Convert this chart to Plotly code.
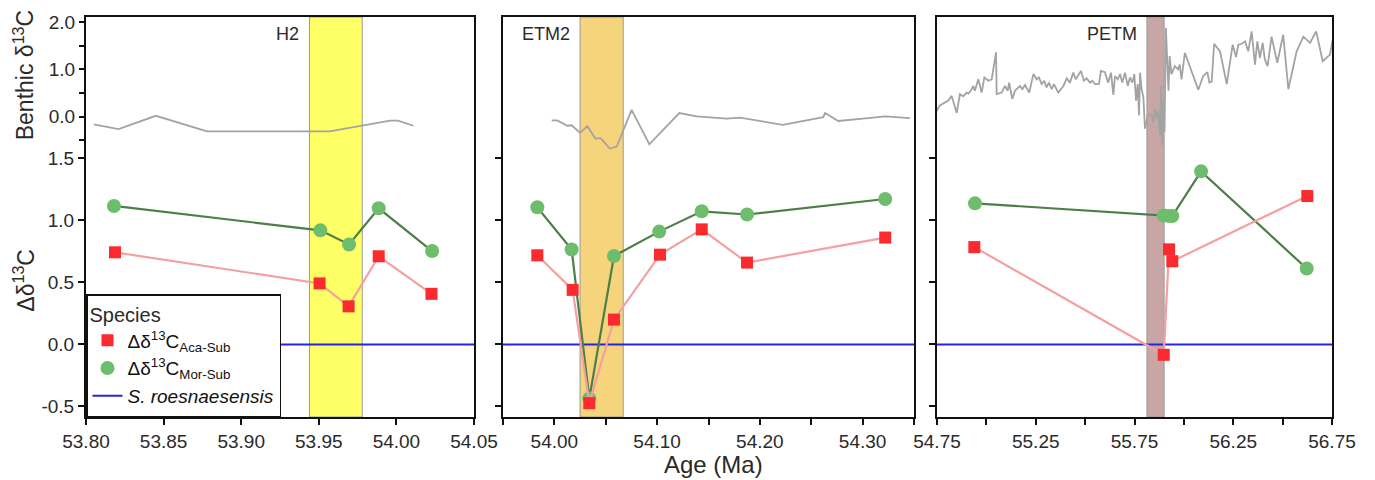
import plotly.graph_objects as go

# ---------------- data ----------------
# Panel 1 (H2)
p1_mor_x = [53.818, 53.951, 53.9695, 53.9886, 54.023]
p1_mor_y = [1.117, 0.920, 0.806, 1.098, 0.753]
p1_aca_x = [53.8187, 53.9505, 53.9692, 53.9886, 54.0226]
p1_aca_y = [0.743, 0.492, 0.307, 0.711, 0.408]
p1_ben_x = [53.805, 53.821, 53.845, 53.878, 53.957, 53.996, 54.001, 54.011]
p1_ben_y = [-0.16, -0.26, 0.02, -0.31, -0.31, -0.08, -0.08, -0.19]

# Panel 2 (ETM2)
p2_mor_x = [53.9834, 54.0168, 54.034, 54.058, 54.102, 54.1434, 54.1875, 54.322]
p2_mor_y = [1.106, 0.766, -0.437, 0.713, 0.910, 1.074, 1.048, 1.173]
p2_aca_x = [53.9834, 54.0178, 54.034, 54.058, 54.1028, 54.1434, 54.1875, 54.322]
p2_aca_y = [0.719, 0.44, -0.474, 0.20, 0.724, 0.928, 0.66, 0.862]
p2_ben_x = [53.9974, 54.0028, 54.0126, 54.0168, 54.025, 54.032, 54.040, 54.045,
            54.054, 54.0607, 54.0752, 54.0924, 54.1216, 54.1385, 54.1677, 54.1806,
            54.2222, 54.2617, 54.2634, 54.2763, 54.3104, 54.3218, 54.346]
p2_ben_y = [-0.077, -0.077, -0.19, -0.18, -0.34, -0.20, -0.46, -0.45,
            -0.67, -0.63, 0.146, -0.58, 0.077, 0.006, -0.04, -0.02,
            -0.17, -0.007, 0.077, -0.09, -0.02, 0.006, -0.027]

# Panel 3 (PETM)
p3_mor_x = [54.9424, 55.898, 55.925, 55.941, 56.087, 56.622]
p3_mor_y = [1.138, 1.04, 1.035, 1.035, 1.396, 0.612]
p3_aca_x = [54.939, 55.898, 55.925, 55.9414, 56.625]
p3_aca_y = [0.785, -0.084, 0.767, 0.671, 1.197]
p3_ben_x = [54.745, 54.765, 54.807, 54.824, 54.85, 54.866, 54.883, 54.90, 54.909, 54.926,
            54.934, 54.942, 54.959, 54.976, 54.99, 55.01, 55.027, 55.049, 55.052, 55.078,
            55.094, 55.108, 55.115, 55.131, 55.145, 55.17, 55.182, 55.196, 55.217, 55.238,
            55.255, 55.266, 55.28, 55.293, 55.305, 55.317, 55.331, 55.342, 55.364, 55.39,
            55.407, 55.423, 55.44, 55.452, 55.465, 55.479, 55.494, 55.508, 55.525, 55.536,
            55.55, 55.57, 55.58, 55.60, 55.617, 55.631, 55.643, 55.651, 55.665, 55.677,
            55.688, 55.702, 55.716, 55.727, 55.739, 55.749, 55.758, 55.766, 55.773, 55.778,
            55.786, 55.795, 55.803, 55.82, 55.837, 55.845, 55.853, 55.862, 55.87, 55.879,
            55.884, 55.89, 55.895, 55.902, 55.909, 55.915, 55.922, 55.928, 55.937, 55.954,
            55.971, 55.979, 55.988, 56.005, 56.04, 56.073, 56.098, 56.119, 56.129, 56.141,
            56.153, 56.183, 56.217, 56.247, 56.264, 56.276, 56.293, 56.31, 56.326, 56.343,
            56.36, 56.372, 56.385, 56.399, 56.41, 56.424, 56.444, 56.473, 56.503, 56.529,
            56.571, 56.605, 56.639, 56.67, 56.703, 56.74, 56.753]
p3_ben_y = [0.10, 0.24, 0.34, 0.44, 0.08, 0.48, 0.43, 0.51, 0.49, 0.58,
            0.65, 0.55, 0.79, 0.51, 0.83, 0.76, 0.79, 1.36, 0.48, 0.51,
            0.65, 0.55, 0.72, 0.375, 0.55, 0.65, 0.58, 0.67, 0.51, 0.90,
            0.79, 0.83, 0.69, 0.76, 0.62, 0.72, 0.58, 0.69, 0.51, 0.65,
            0.81, 0.72, 0.93, 0.79, 0.875, 0.965, 0.76, 0.81, 0.72, 0.76,
            0.69, 0.69, 0.965, 0.94, 0.72, 0.93, 0.46, 0.86, 0.79, 0.90,
            0.72, 0.93, 0.65, 0.83, 0.72, 0.90, 0.34, 0.69, 0.03, 0.93,
            0.58, 0.41, -0.25, 0.06, 0.03, -0.11, 0.17, -0.04, 0.13, -0.39,
            0.65, -0.60, 0.31, -0.32, 1.87, 1.35, 0.55, 1.28, 0.90, 1.07,
            1.00, 1.10, 0.79, 1.35, 0.93, 0.57, 0.86, 0.94, 0.72, 0.74,
            1.54, 1.38, 0.69, 1.52, 1.26, 1.52, 1.54, 1.59, 1.38, 1.80,
            1.10, 1.59, 1.24, 1.56, 1.21, 1.07, 1.69, 1.14, 1.73, 0.58,
            1.38, 1.69, 1.56, 1.80, 1.17, 1.31, 1.625]

# Reference species (Δδ13C relative to S. roesnaesensis)
ref_value = 0.0

# Events
event_names = ["H2", "ETM2", "PETM"]
event_start = [53.944, 54.025, 55.813]
event_end = [53.978, 54.067, 55.900]
event_colors = ["#FFFF66", "#F5D47C", "#C9A6A6"]

# Axes
x_ranges = [[53.80, 54.05], [53.95, 54.35], [54.75, 56.75]]
p1_tickvals = [53.80, 53.85, 53.90, 53.95, 54.00, 54.05]
p1_ticktext = ["53.80", "53.85", "53.90", "53.95", "54.00", "54.05"]
p1_minor = []
p2_tickvals = [54.00, 54.10, 54.20, 54.30]
p2_ticktext = ["54.00", "54.10", "54.20", "54.30"]
p2_minor = [53.95, 54.05, 54.15, 54.25, 54.35]
p3_tickvals = [54.75, 55.25, 55.75, 56.25, 56.75]
p3_ticktext = ["54.75", "55.25", "55.75", "56.25", "56.75"]
p3_minor = [55.00, 55.50, 56.00, 56.50]
delta_tickvals = [1.5, 1.0, 0.5, 0.0, -0.5]
delta_ticktext = ["1.5", "1.0", "0.5", "0.0", "-0.5"]
benthic_tickvals = [2.0, 1.0, 0.0]
benthic_ticktext = ["2.0", "1.0", "0.0"]
benthic_minor = [1.5, 0.5, -0.5]

# ---------------- figure ----------------
RED = "#FA2A2E"
RED_LINE = "#F4A0A0"
GREEN = "#6DBD6D"
GREEN_LINE = "#4C7F47"
GRAY = "#A3A3A3"
BLUE = "#2525E0"
FONT = "Liberation Sans"
TXT = "#2a2a2a"

W, H = 1375, 480
ML, MT = 86, 12
PW, PH = 1246, 405
MR = W - ML - PW
MB = H - MT - PH
domains = [[0.0, 388 / PW], [417 / PW, 828 / PW], [851 / PW, 1.0]]


def px_x(px):
    return (px - ML) / PW


def px_y(py):
    return (MT + PH - py) / PH


fig = go.Figure()

panels = [
    (p1_mor_x, p1_mor_y, p1_aca_x, p1_aca_y, p1_ben_x, p1_ben_y),
    (p2_mor_x, p2_mor_y, p2_aca_x, p2_aca_y, p2_ben_x, p2_ben_y),
    (p3_mor_x, p3_mor_y, p3_aca_x, p3_aca_y, p3_ben_x, p3_ben_y),
]

for i, (mx, my, ax, ay, bx, by) in enumerate(panels):
    xa = "x" if i == 0 else f"x{i + 1}"
    yd = "y" if i == 0 else f"y{2 * i + 1}"
    yb = f"y{2 * i + 2}"
    fig.add_trace(go.Scatter(x=bx, y=by, xaxis=xa, yaxis=yb, mode="lines",
                             line=dict(color=GRAY, width=1.8), showlegend=False,
                             hoverinfo="skip"))
    fig.add_trace(go.Scatter(x=mx, y=my, xaxis=xa, yaxis=yd, mode="lines+markers",
                             line=dict(color=GREEN_LINE, width=2.2),
                             marker=dict(symbol="circle", size=14, color=GREEN),
                             showlegend=False))
    fig.add_trace(go.Scatter(x=ax, y=ay, xaxis=xa, yaxis=yd, mode="lines+markers",
                             line=dict(color=RED_LINE, width=2.2),
                             marker=dict(symbol="square", size=12, color=RED),
                             showlegend=False))

# legend-only entries
fig.add_trace(go.Scatter(x=[None], y=[None], mode="markers",
                         marker=dict(symbol="square", size=12, color=RED),
                         name="Δδ<sup>13</sup>C<sub>Aca-Sub</sub>"))
fig.add_trace(go.Scatter(x=[None], y=[None], mode="markers",
                         marker=dict(symbol="circle", size=14, color=GREEN),
                         name="Δδ<sup>13</sup>C<sub>Mor-Sub</sub>"))
fig.add_trace(go.Scatter(x=[None], y=[None], mode="lines",
                         line=dict(color=BLUE, width=2),
                         name="<i>S. roesnaesensis</i>"))

shapes = []
annotations = []
for i in range(3):
    xa = "x" if i == 0 else f"x{i + 1}"
    yd = "y" if i == 0 else f"y{2 * i + 1}"
    shapes.append(dict(type="rect", xref=xa, yref=f"{yd} domain",
                       x0=event_start[i], x1=event_end[i], y0=0, y1=1,
                       fillcolor=event_colors[i], line=dict(color="#9a9a9a", width=1),
                       layer="below"))
    shapes.append(dict(type="line", xref=f"{xa} domain", yref=yd,
                       x0=0, x1=1, y0=ref_value, y1=ref_value,
                       line=dict(color=BLUE, width=2), layer="below"))
    annotations.append(dict(text=event_names[i], xref=xa, yref=f"{yd} domain",
                            x=event_start[i], y=px_y(29), xanchor="right", yanchor="middle",
                            xshift=-8, showarrow=False,
                            font=dict(family=FONT, size=18, color=TXT)))

annotations += [
    dict(text="Benthic δ<sup>13</sup>C", xref="paper", yref="paper",
         x=px_x(24), y=px_y(71), textangle=-90,
         xanchor="center", yanchor="middle", showarrow=False,
         font=dict(family=FONT, size=23, color=TXT)),
    dict(text="Δδ<sup>13</sup>C", xref="paper", yref="paper",
         x=px_x(24), y=px_y(279), textangle=-90,
         xanchor="center", yanchor="middle", showarrow=False,
         font=dict(family=FONT, size=23, color=TXT)),
    dict(text="Age (Ma)", xref="paper", yref="paper",
         x=px_x(713), y=px_y(465),
         xanchor="center", yanchor="middle", showarrow=False,
         font=dict(family=FONT, size=24, color=TXT)),
]

axis_common = dict(showline=True, linecolor="#111", linewidth=2, mirror=True,
                   ticks="outside", ticklen=6, tickwidth=1.5, tickcolor="#111",
                   showgrid=False, zeroline=False,
                   tickfont=dict(family=FONT, size=19, color=TXT))

delta_range = [(343.5 - 417) / 125.5, (343.5 - 12) / 125.5]
benthic_range = [(113 - 417) / 48.0, (113 - 12) / 48.0]

layout = dict(
    width=W, height=H,
    margin=dict(l=ML, r=MR, t=MT, b=MB),
    paper_bgcolor="white", plot_bgcolor="white",
    shapes=shapes, annotations=annotations,
    showlegend=True,
    legend=dict(x=0, y=0, xanchor="left", yanchor="bottom",
                bgcolor="white", bordercolor="#111", borderwidth=1.5,
                title=dict(text="Species", font=dict(family=FONT, size=20, color=TXT)),
                font=dict(family=FONT, size=19, color="#111"),
                tracegroupgap=0),
)

ticks = [(p1_tickvals, p1_ticktext, p1_minor), (p2_tickvals, p2_ticktext, p2_minor),
         (p3_tickvals, p3_ticktext, p3_minor)]
for i in range(3):
    xk = "xaxis" if i == 0 else f"xaxis{i + 1}"
    yd_name = "y" if i == 0 else f"y{2 * i + 1}"
    ydk = "yaxis" if i == 0 else f"yaxis{2 * i + 1}"
    ybk = f"yaxis{2 * i + 2}"
    xdict = dict(axis_common, domain=domains[i], range=x_ranges[i],
                 tickvals=ticks[i][0], ticktext=ticks[i][1], anchor=yd_name)
    if ticks[i][2]:
        xdict["minor"] = dict(tickvals=ticks[i][2], ticks="outside", ticklen=6,
                              tickwidth=1.5, tickcolor="#111", showgrid=False)
    layout[xk] = xdict
    layout[ydk] = dict(axis_common, range=delta_range, domain=[0, 1],
                       tickvals=delta_tickvals, ticktext=delta_ticktext,
                       showticklabels=(i == 0),
                       anchor="x" if i == 0 else f"x{i + 1}")
    if i == 0:
        layout[ybk] = dict(range=benthic_range, overlaying="y", anchor="x",
                           side="left", showline=False, showgrid=False, zeroline=False,
                           ticks="outside", ticklen=6, tickwidth=1.5, tickcolor="#111",
                           tickvals=benthic_tickvals, ticktext=benthic_ticktext,
                           minor=dict(tickvals=benthic_minor, ticks="outside", ticklen=6,
                                      tickwidth=1.5, tickcolor="#111", showgrid=False),
                           tickfont=dict(family=FONT, size=19, color=TXT))
    else:
        layout[ybk] = dict(range=benthic_range, overlaying=yd_name,
                           anchor=f"x{i + 1}", visible=False)

fig.update_layout(**layout)
# remove the default 8px page margin so the 1375x480 figure fills the window exactly
fig.write_html("out.html",
               config={"displayModeBar": False},
               post_script="document.body.style.margin='0px';"
                           "document.body.style.overflow='hidden';")
